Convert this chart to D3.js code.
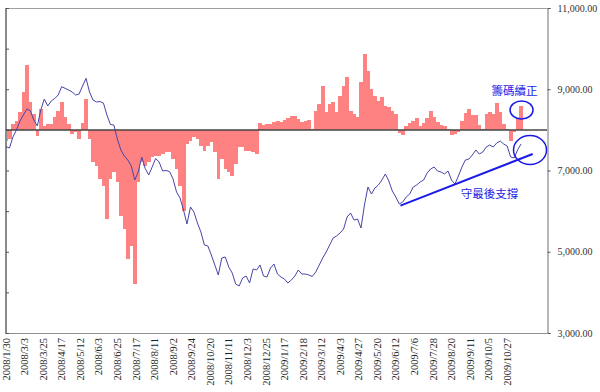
<!DOCTYPE html>
<html><head><meta charset="utf-8">
<script src="https://cdn.jsdelivr.net/npm/d3@7"></script>
<style>body{margin:0;background:#fff;} svg{display:block;}</style>
</head><body>
<svg id="c" width="600" height="392"></svg>
<script>
// ---- data ----
const xLabels = ["2008/1/30","2008/3/3","2008/3/25","2008/4/17","2008/5/12","2008/6/3","2008/6/25","2008/7/17","2008/8/11","2008/9/2","2008/9/24","2008/10/20","2008/11/11","2008/12/3","2008/12/25","2009/1/17","2009/2/18","2009/3/12","2009/4/3","2009/4/27","2009/5/20","2009/6/12","2009/7/6","2009/7/28","2009/8/20","2009/9/11","2009/10/5","2009/10/27"];
const labelStep = 16;      // trading days between axis labels
const dayStep = 3;         // trading days between samples below
const totalDays = 466;     // categories on the axis
const lineValues = [7586,7554,7825,7997,8218,8366,8514,8465,8243,8095,
8489,8760,8588,8711,8772,8858,9063,9023,8981,8932,
8858,8883,9080,9269,8932,8735,8686,8698,8661,8366,
8132,8120,7775,7505,7357,7258,7111,6766,6963,7332,
7049,6889,7086,7295,7209,6988,7000,6975,6791,6471,
6323,6028,5683,6101,5978,5708,5486,5166,5142,4920,
4674,4428,4846,4871,4625,4477,4206,4157,4354,4403,
4231,4575,4551,4674,4403,4378,4600,4698,4452,4378,
4329,4231,4305,4403,4551,4452,4452,4428,4391,4502,
4674,4846,4994,5166,5338,5388,5462,5560,5855,5954,
5781,5806,5585,6151,6594,6421,6569,6643,6766,6914,
6741,6495,6348,6175,6225,6348,6421,6594,6643,6717,
6766,6938,7037,7086,6988,6963,6914,6988,6766,6668,
6865,7086,7258,7283,7381,7505,7406,7455,7578,7628,
7578,7677,7726,7652,7603,7332,7308,7505,7652];
const barValues = [-271,-220,148,229,435,928,1600,682,394,-150,
517,106,148,148,312,475,690,312,148,-100,
-57,-222,164,760,-222,-795,-878,-1206,-1370,-2200,
-1206,-1042,-1288,-2108,-2437,-3176,-2848,-3791,-1288,-795,
-878,-795,-672,-632,-632,-591,-549,-549,-714,-960,
-1370,-1986,-345,-263,-181,-222,-386,-509,-386,-304,
-549,-1206,-714,-960,-1042,-1124,-837,-427,-427,-509,
-509,-549,-591,164,123,148,148,189,229,200,
254,295,337,352,270,189,229,250,20,475,
640,1090,435,640,682,430,845,1090,1297,475,
394,312,1174,1870,1460,1009,845,722,804,599,
558,475,394,-74,-123,106,164,229,288,106,
172,288,475,312,205,131,106,25,-123,-100,
-40,229,418,517,369,369,123,25,394,435,
394,664,435,148,25,-263,-40,271,599];
const priceTicks = [3000,5000,7000,9000,11000];
const barTicks = [-5000,-4000,-3000,-2000,-1000,0,1000,2000,3000];
const supportDays = [340,454];
const supportValues = [6134,7406];
const noteTexts = ["籌碼續正","守最後支撐"];
const noteDays = [438.4,416.8];
const noteValues = [8858,6335];
const circleDays = [444.4,451.7];
const circleValues = [8490,7505];

// ---- chart ----
const svg = d3.select('#c');
const L=6, R=547, T=8, B=333;
const x = d3.scaleLinear().domain([0,totalDays]).range([L,546.6]);
const yR = d3.scaleLinear().domain([3000,11000]).range([B,T]);
const yL = d3.scaleLinear().domain([-5000,3000]).range([B,T]);

const serif = "'Liberation Serif','Times New Roman',serif";

// bars
const bars = barValues.map((v,k)=>({day:k*dayStep, v}));
svg.append('g').attr('shape-rendering','crispEdges').selectAll('rect').data(bars).join('rect')
  .attr('x', d=>Math.max(L, x(d.day-dayStep/2)))
  .attr('width', d=>Math.min(R, x(d.day+dayStep/2)) - Math.max(L, x(d.day-dayStep/2)) + 0.3)
  .attr('y', d=>yL(Math.max(0,d.v)))
  .attr('height', d=>Math.abs(yL(d.v)-yL(0)))
  .attr('fill','#ff8282');

// frame
const frame = svg.append('g').attr('fill','none');
frame.append('line').attr('x1',L).attr('x2',R).attr('y1',T+0.5).attr('y2',T+0.5).attr('stroke','#a0a0a0');
frame.append('line').attr('x1',L).attr('x2',R).attr('y1',B+0.5).attr('y2',B+0.5).attr('stroke','#909090');
frame.append('line').attr('x1',L).attr('x2',L).attr('y1',T).attr('y2',B+1).attr('stroke','#8a8a8a').attr('stroke-width',2);

// left (bar) axis - ticks only
const axL = svg.append('g').attr('transform',`translate(${L},0)`)
  .call(d3.axisRight(yL).tickValues(barTicks).tickSize(3).tickFormat(''));
axL.select('.domain').remove();
axL.selectAll('line').attr('stroke','#555');

// right (price) axis
const axR = svg.append('g').attr('transform',`translate(${R+0.5},0)`)
  .call(d3.axisRight(yR).tickValues(priceTicks).tickSize(3).tickPadding(7).tickFormat(d3.format(',.2f')));
axR.select('.domain').attr('stroke','#707070');
axR.selectAll('line').attr('stroke','#555');
axR.selectAll('text').attr('font-family',serif).attr('font-size',10).attr('fill','#333');

// zero line
svg.append('line').attr('x1',L).attr('x2',R).attr('y1',yL(0)).attr('y2',yL(0))
  .attr('stroke','#444').attr('stroke-width',1.5);

// x labels
svg.append('g').selectAll('text').data(xLabels).join('text')
  .attr('transform',(d,j)=>`translate(${x(j*labelStep)},338) rotate(-90)`)
  .attr('text-anchor','end').attr('dy','0.35em')
  .attr('font-family',serif).attr('font-size',10.5).attr('fill','#222')
  .text(d=>d);

// price line
const pts = lineValues.map((v,k)=>({day:k*dayStep, v}));
svg.append('path').datum(pts)
  .attr('d', d3.line().x(d=>x(d.day)).y(d=>yR(d.v)))
  .attr('fill','none').attr('stroke','#4646a6').attr('stroke-width',1);

// annotations
svg.append('line')
  .attr('x1',x(supportDays[0])).attr('y1',yR(supportValues[0]))
  .attr('x2',x(supportDays[1])).attr('y2',yR(supportValues[1]))
  .attr('stroke','#1a1ae6').attr('stroke-width',2);
const radii = [[11.5,9],[16.5,14.5]];
circleDays.forEach((dd,i)=>{
  svg.append('ellipse').attr('cx',x(dd)).attr('cy',yR(circleValues[i]))
    .attr('rx',radii[i][0]).attr('ry',radii[i][1])
    .attr('fill','none').attr('stroke','#1a1ae6').attr('stroke-width',1.5);
});
noteTexts.forEach((t,i)=>{
  svg.append('text').attr('x',x(noteDays[i])).attr('y',yR(noteValues[i]))
    .attr('text-anchor','middle')
    .attr('font-family',"'Noto Sans CJK TC','Noto Sans CJK SC',sans-serif")
    .attr('font-size',11.5).attr('fill','#1a1ae6').text(t);
});
</script>
</body></html>
